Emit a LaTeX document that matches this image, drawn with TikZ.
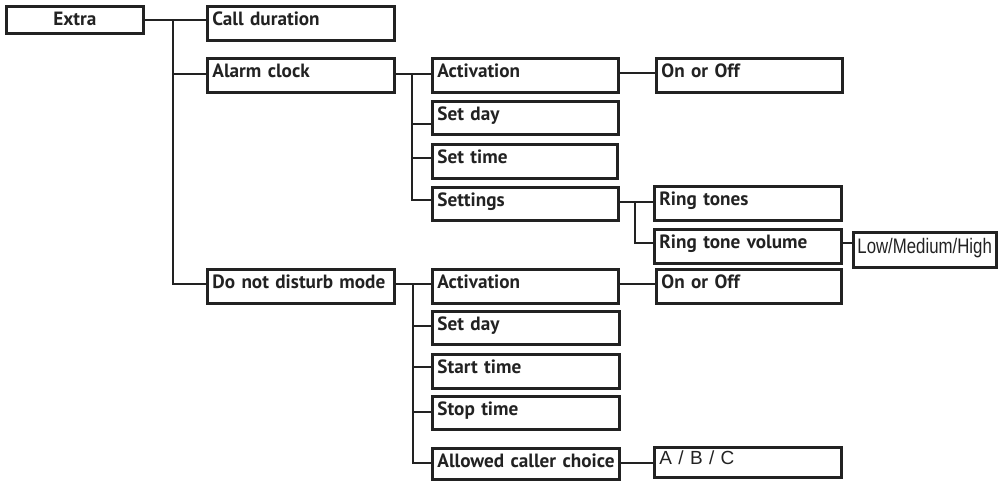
\documentclass[tikz,border=0pt]{standalone}
\usepackage{fontspec}
\setmainfont{PT Sans}
\newfontfamily\helv{Liberation Sans}
\usetikzlibrary{calc}
\definecolor{ink}{HTML}{222222}
\tikzset{
  conn/.style={line width=2.8pt, draw=ink},
  box/.style={draw=ink, line width=2.8pt, anchor=north west, inner xsep=5pt, inner ysep=0pt,
    align=left, text=ink, font=\bfseries\fontsize{19.2}{19.2}\selectfont},
  ctr/.style={align=center},
  hv/.style={font=\helv\fontsize{19}{19}\selectfont},
}
\newcommand\bx[7][]{%
  \pgfmathsetmacro\bxw{#5-#3-10}\pgfmathsetmacro\bxd{#6-#4-19}%
  \node[box, text width=\bxw pt, text height=19pt, text depth=\bxd pt, #1] (#2) at (#3,#4) {\mbox{#7}};}
\begin{document}
\begin{tikzpicture}[x=1pt,y=-1pt]
\useasboundingbox (0,0) rectangle (1003,481);
% level 0/1
\bx[ctr]{extra}{5}{5}{142}{32}{Extra}
\bx{calldur}{206}{5}{393}{39}{Call duration}
\bx{alarm}{206}{57}{393}{91}{Alarm clock}
\bx{dnd}{206}{268}{393}{302}{Do not disturb mode}
% alarm clock branch
\bx{aAct}{431}{57}{617}{91}{Activation}
\bx{aSetDay}{431}{100}{617}{133}{Set day}
\bx{aSetTime}{431}{143}{616}{177}{Set time}
\bx{aSettings}{431}{186}{617}{219}{Settings}
\bx{aOnOff}{655}{57}{841}{91}{On or Off}
\bx{ringTones}{653}{185}{840}{219}{Ring tones}
\bx{ringVol}{653}{228}{840}{262}{Ring tone volume}
\bx[hv, font=\helv\fontsize{21}{21}\selectfont, text height=21pt, inner xsep=4pt]{lmh}{852}{231}{997}{264}{\scalebox{0.8}[1]{Low/Medium/High}}
% do not disturb branch
\bx{dAct}{431}{268}{617}{302}{Activation}
\bx{dOnOff}{655}{268}{840}{302}{On or Off}
\bx{dSetDay}{431}{310}{618}{343}{Set day}
\bx{dStart}{431}{353}{618}{387}{Start time}
\bx{dStop}{431}{395}{618}{428}{Stop time}
\bx{dAllowed}{431}{447}{618}{478}{Allowed caller choice}
\bx[hv, text height=17pt]{abc}{653}{446}{840}{478}{A / B / C}
% trunk coordinates
\coordinate (t1) at (173,0);
\coordinate (t2) at (412,0);
\coordinate (t3) at (635,0);
\coordinate (t4) at (413,0);
% Extra connectors
\coordinate (eOut) at ($(extra.north east)+(0,15)$);
\coordinate (alIn) at ($(alarm.north west)+(0,17)$);
\coordinate (dnIn) at ($(dnd.north west)+(0,16)$);
\draw[conn] (eOut) -- (eOut -| calldur.west);
\draw[conn] (t1 |- eOut) -- (t1 |- dnIn) -- (dnIn);
\draw[conn] (t1 |- alIn) -- (alIn);
% Alarm clock connectors
\coordinate (aSdIn) at ($(aSetDay.north west)+(0,24)$);
\coordinate (aStIn) at ($(aSetTime.north west)+(0,15)$);
\coordinate (aSeIn) at ($(aSettings.north west)+(0,14)$);
\draw[conn] (alIn -| alarm.east) -- (alIn -| aAct.west);
\draw[conn] (t2 |- alIn) -- (t2 |- aSeIn) -- (aSeIn);
\draw[conn] (t2 |- aSdIn) -- (aSdIn);
\draw[conn] (t2 |- aStIn) -- (aStIn);
\coordinate (aAOut) at ($(aAct.north east)+(0,16)$);
\draw[conn] (aAOut) -- (aAOut -| aOnOff.west);
% Settings connectors
\coordinate (seOut) at ($(aSettings.north east)+(0,16)$);
\coordinate (rvIn) at ($(ringVol.north west)+(0,15)$);
\draw[conn] (seOut) -- (seOut -| ringTones.west);
\draw[conn] (t3 |- seOut) -- (t3 |- rvIn) -- (rvIn);
\draw[conn] (rvIn -| ringVol.east) -- (rvIn -| lmh.west);
% Do not disturb connectors
\coordinate (dSdIn) at ($(dSetDay.north west)+(0,16)$);
\coordinate (dStIn) at ($(dStart.north west)+(0,14)$);
\coordinate (dSpIn) at ($(dStop.north west)+(0,17)$);
\coordinate (dAlIn) at ($(dAllowed.north west)+(0,16)$);
\draw[conn] (dnIn -| dnd.east) -- (dnIn -| dAct.west);
\draw[conn] (t4 |- dnIn) -- (t4 |- dAlIn) -- (dAlIn);
\draw[conn] (t4 |- dSdIn) -- (dSdIn);
\draw[conn] (t4 |- dStIn) -- (dStIn);
\draw[conn] (t4 |- dSpIn) -- (dSpIn);
\draw[conn] (dnIn -| dAct.east) -- (dnIn -| dOnOff.west);
\draw[conn] (dAlIn -| dAllowed.east) -- (dAlIn -| abc.west);
\end{tikzpicture}
\end{document}
